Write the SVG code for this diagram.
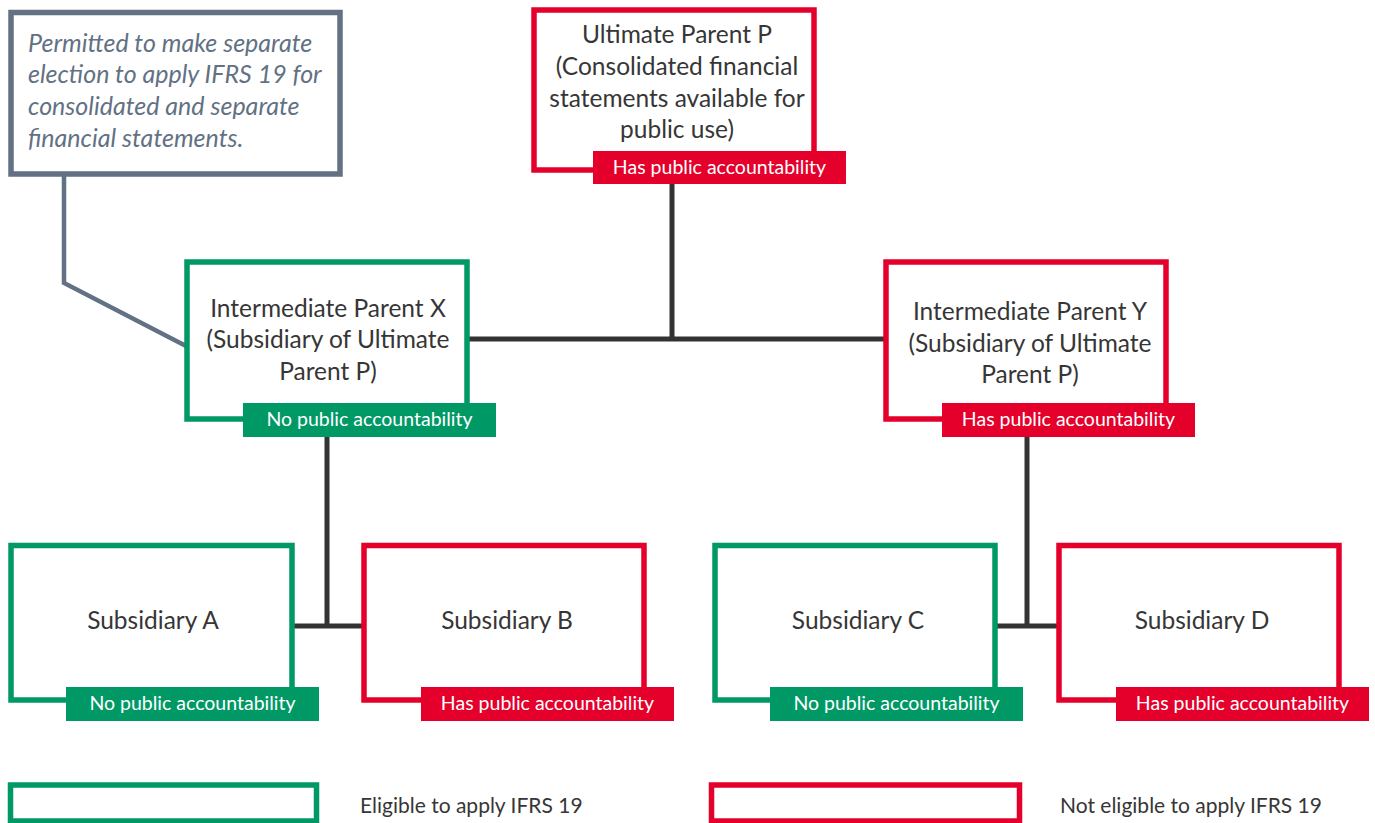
<svg xmlns="http://www.w3.org/2000/svg" width="1375" height="823" viewBox="0 0 1375 823">
<style>
  text { font-family: Lato, "Liberation Sans", sans-serif; }
  .box { fill: #ffffff; stroke-width: 5.5; }
  .green { stroke: #009966; }
  .red { stroke: #e4002b; }
  .lblg { fill: #009966; }
  .lblr { fill: #e4002b; }
  .t { font-size: 24.5px; fill: #363636; text-anchor: middle; }
  .lt { font-size: 19.5px; fill: #ffffff; text-anchor: middle; }
  .note { font-size: 25px; fill: #627183; font-style: italic; }
  .leg { font-size: 21px; fill: #363636; }
  .conn { stroke: #333333; stroke-width: 5; fill: none; }
</style>
<g id="connectors">
  <line class="conn" x1="672" y1="184" x2="672" y2="339"/>
  <line class="conn" x1="468" y1="339" x2="886" y2="339"/>
  <line class="conn" x1="327" y1="437" x2="327" y2="626"/>
  <line class="conn" x1="292" y1="626" x2="364" y2="626"/>
  <line class="conn" x1="1027" y1="437" x2="1027" y2="626"/>
  <line class="conn" x1="995" y1="626" x2="1059" y2="626"/>
  <polyline points="64,174 64,283 186,346" fill="none" stroke="#627183" stroke-width="4.5"/>
</g>
<g id="note">
  <rect x="11" y="12.5" width="329" height="161.5" fill="#ffffff" stroke="#627183" stroke-width="5.5"/>
  <text class="note" x="28" y="52">Permitted to make separate</text>
  <text class="note" x="28" y="83">election to apply IFRS 19 for</text>
  <text class="note" x="28" y="115">consolidated and separate</text>
  <text class="note" x="28" y="147">financial statements.</text>
</g>
<g id="ultimate-parent-p">
  <rect class="box red" x="534" y="10" width="280" height="160"/>
  <text class="t" x="677" y="43">Ultimate Parent P</text>
  <text class="t" x="677" y="75">(Consolidated financial</text>
  <text class="t" x="677" y="107">statements available for</text>
  <text class="t" x="677" y="138">public use)</text>
  <rect class="lblr" x="593" y="151" width="253" height="33"/>
  <text class="lt" x="719.5" y="174">Has public accountability</text>
</g>
<g id="intermediate-parent-x">
  <rect class="box green" x="187" y="262" width="280" height="157"/>
  <text class="t" x="328" y="317">Intermediate Parent X</text>
  <text class="t" x="328" y="348">(Subsidiary of Ultimate</text>
  <text class="t" x="328" y="380">Parent P)</text>
  <rect class="lblg" x="243" y="403" width="253" height="34"/>
  <text class="lt" x="369.5" y="426">No public accountability</text>
</g>
<g id="intermediate-parent-y">
  <rect class="box red" x="886" y="262" width="280" height="157"/>
  <text class="t" x="1030" y="320">Intermediate Parent Y</text>
  <text class="t" x="1030" y="352">(Subsidiary of Ultimate</text>
  <text class="t" x="1030" y="383">Parent P)</text>
  <rect class="lblr" x="942" y="403" width="253" height="34"/>
  <text class="lt" x="1068.5" y="426">Has public accountability</text>
</g>
<g id="subsidiary-a">
  <rect class="box green" x="11" y="545.5" width="281" height="154.5"/>
  <text class="t" x="153" y="629">Subsidiary A</text>
  <rect class="lblg" x="66" y="687" width="253" height="34"/>
  <text class="lt" x="192.5" y="710">No public accountability</text>
</g>
<g id="subsidiary-b">
  <rect class="box red" x="364" y="545.5" width="280" height="154.5"/>
  <text class="t" x="507" y="629">Subsidiary B</text>
  <rect class="lblr" x="421" y="687" width="253" height="34"/>
  <text class="lt" x="547.5" y="710">Has public accountability</text>
</g>
<g id="subsidiary-c">
  <rect class="box green" x="715" y="545.5" width="280" height="154.5"/>
  <text class="t" x="858" y="629">Subsidiary C</text>
  <rect class="lblg" x="770" y="687" width="253" height="34"/>
  <text class="lt" x="896.5" y="710">No public accountability</text>
</g>
<g id="subsidiary-d">
  <rect class="box red" x="1059" y="545.5" width="280" height="154.5"/>
  <text class="t" x="1202" y="629">Subsidiary D</text>
  <rect class="lblr" x="1116" y="687" width="253" height="34"/>
  <text class="lt" x="1242.5" y="710">Has public accountability</text>
</g>
<g id="legend">
  <rect class="box green" x="10.5" y="785" width="306" height="36"/>
  <text class="leg" x="360" y="813">Eligible to apply IFRS 19</text>
  <rect class="box red" x="711.5" y="785" width="308" height="36"/>
  <text class="leg" x="1060" y="813">Not eligible to apply IFRS 19</text>
</g>
</svg>
